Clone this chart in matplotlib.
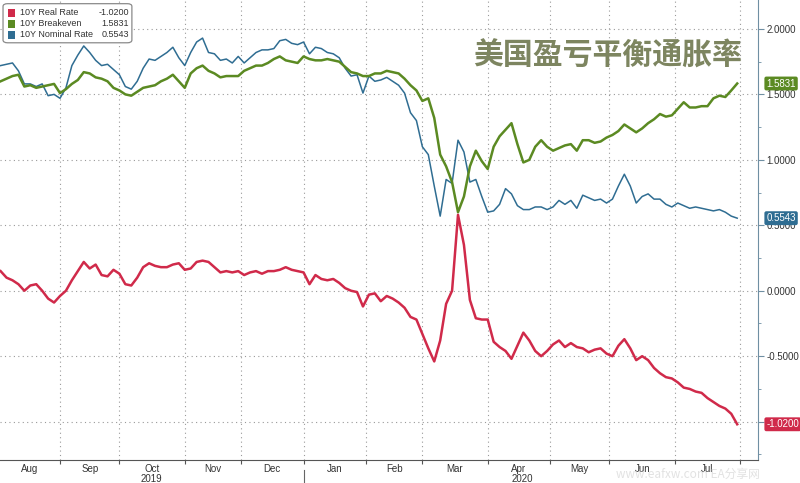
import numpy as np
import pandas as pd
import matplotlib
matplotlib.use("Agg")
import matplotlib.pyplot as plt
from matplotlib.patches import FancyBboxPatch

# trading calendar (US bond market), sampled every 2nd session
holidays = ["2019-09-02", "2019-10-14", "2019-11-11", "2019-11-28", "2019-12-25",
            "2020-01-01", "2020-01-20", "2020-02-17", "2020-04-10", "2020-05-25",
            "2020-07-03"]
days = pd.bdate_range("2019-08-01", "2020-07-31")
days = days[~days.isin(pd.to_datetime(holidays))]

nominal = [1.72, 1.73, 1.74, 1.68, 1.58, 1.58, 1.56, 1.58, 1.49, 1.50,
           1.47, 1.55, 1.72, 1.80, 1.87, 1.82, 1.76, 1.72, 1.73, 1.69,
           1.65, 1.56, 1.54, 1.60, 1.70, 1.77, 1.76, 1.79, 1.82, 1.86,
           1.78, 1.72, 1.82, 1.90, 1.93, 1.82, 1.81, 1.76, 1.77, 1.74,
           1.79, 1.74, 1.78, 1.82, 1.84, 1.84, 1.85, 1.91, 1.92, 1.89,
           1.88, 1.90, 1.81, 1.86, 1.85, 1.82, 1.81, 1.78, 1.70, 1.64,
           1.65, 1.51, 1.64, 1.60, 1.61, 1.63, 1.60, 1.57, 1.51, 1.36,
           1.30, 1.10, 1.04, 0.80, 0.57, 0.85, 0.82, 1.15, 1.06, 0.83,
           0.85, 0.72, 0.60, 0.61, 0.66, 0.78, 0.74, 0.65, 0.62, 0.62,
           0.64, 0.64, 0.62, 0.64, 0.69, 0.66, 0.69, 0.63, 0.73, 0.71,
           0.69, 0.70, 0.67, 0.70, 0.80, 0.89, 0.80, 0.67, 0.72, 0.74,
           0.70, 0.70, 0.66, 0.64, 0.67, 0.65, 0.63, 0.64, 0.63, 0.62,
           0.61, 0.62, 0.60, 0.57, 0.5543]

breakeven = [1.60, 1.62, 1.64, 1.65, 1.56, 1.57, 1.55, 1.56, 1.57, 1.58,
             1.51, 1.54, 1.58, 1.61, 1.67, 1.66, 1.63, 1.62, 1.60, 1.55,
             1.53, 1.50, 1.49, 1.52, 1.55, 1.56, 1.57, 1.60, 1.62, 1.65,
             1.60, 1.55, 1.66, 1.70, 1.72, 1.68, 1.66, 1.63, 1.64, 1.64,
             1.64, 1.68, 1.70, 1.72, 1.72, 1.74, 1.77, 1.79, 1.76, 1.75,
             1.74, 1.79, 1.77, 1.76, 1.76, 1.77, 1.76, 1.75, 1.71, 1.67,
             1.66, 1.64, 1.64, 1.66, 1.66, 1.68, 1.67, 1.66, 1.62, 1.57,
             1.53, 1.45, 1.47, 1.32, 1.04, 0.95, 0.83, 0.60, 0.72, 0.95,
             1.07, 0.99, 0.93, 1.10, 1.18, 1.23, 1.28, 1.12, 0.98, 1.00,
             1.10, 1.15, 1.10, 1.07, 1.09, 1.11, 1.12, 1.07, 1.15, 1.15,
             1.13, 1.14, 1.17, 1.19, 1.22, 1.27, 1.24, 1.21, 1.24, 1.28,
             1.31, 1.35, 1.33, 1.34, 1.39, 1.44, 1.40, 1.40, 1.41, 1.41,
             1.47, 1.49, 1.48, 1.53, 1.5831]

real = [0.15, 0.10, 0.08, 0.05, 0.00, 0.04, 0.05, 0.00, -0.06, -0.09,
        -0.04, 0.00, 0.08, 0.15, 0.22, 0.17, 0.20, 0.12, 0.11, 0.16,
        0.13, 0.05, 0.04, 0.10, 0.18, 0.21, 0.19, 0.18, 0.18, 0.20,
        0.21, 0.16, 0.17, 0.22, 0.23, 0.22, 0.18, 0.14, 0.15, 0.14,
        0.15, 0.12, 0.14, 0.15, 0.13, 0.15, 0.15, 0.16, 0.18, 0.16,
        0.15, 0.14, 0.05, 0.12, 0.09, 0.08, 0.09, 0.06, 0.02, 0.00,
        -0.01, -0.12, -0.03, -0.02, -0.08, -0.04, -0.06, -0.09, -0.13, -0.20,
        -0.22, -0.33, -0.44, -0.54, -0.38, -0.10, 0.00, 0.58, 0.35, -0.07,
        -0.21, -0.22, -0.22, -0.39, -0.43, -0.46, -0.52, -0.42, -0.32, -0.38,
        -0.46, -0.50, -0.46, -0.41, -0.38, -0.43, -0.40, -0.43, -0.44, -0.47,
        -0.45, -0.44, -0.48, -0.50, -0.42, -0.37, -0.44, -0.53, -0.50, -0.53,
        -0.59, -0.63, -0.66, -0.67, -0.70, -0.74, -0.75, -0.77, -0.78, -0.82,
        -0.85, -0.88, -0.90, -0.94, -1.02]

labels = ["10Y Real Rate", "10Y Breakeven", "10Y Nominal Rate"]
last_vals = ["-1.0200", "1.5831", "0.5543"]
colors = ["#d02a4a", "#5b8a22", "#2f6d92"]
title = "美国盈亏平衡通胀率"

pos = np.arange(len(days))
# every second session, counted back from the last one
x = pos[::-2][::-1][-len(real):]

fig = plt.figure(figsize=(8, 4.83), dpi=100)
ax = fig.add_axes([0.0, 0.0476, 0.9475, 0.9524])

ax.plot(x, nominal, color=colors[2], lw=1.1, zorder=3)
ax.plot(x, breakeven, color=colors[1], lw=1.8, zorder=4)
ax.plot(x, real, color=colors[0], lw=1.8, zorder=5)

ax.set_xlim(x[0] - 0.2, len(days) + 6)
ax.set_ylim(-1.293, 2.221)

# month starts = first session of each month
month_id = days.to_period("M")
starts = [i for i in range(1, len(days)) if month_id[i] != month_id[i - 1]]
starts.append(len(days))
left = ax.get_xlim()[0]
edges = [left] + starts
mids = [(a + b) / 2 for a, b in zip(edges[:-1], edges[1:])]
month_names = ["Aug", "Sep", "Oct", "Nov", "Dec", "Jan", "Feb", "Mar",
               "Apr", "May", "Jun", "Jul"]

ax.set_xticks(starts)
ax.set_xticklabels([])
ax.set_xticks(mids, minor=True)
ax.set_xticklabels(month_names, minor=True, fontsize=7, family="Liberation Sans",
                   color="#333333")
ax.tick_params(axis="x", which="major", length=3, width=0.8, color="#555555")
ax.tick_params(axis="x", which="minor", length=0, pad=3)

jan = starts[4]
years = [("2019", (left + jan) / 2), ("2020", (jan + starts[-1]) / 2)]
for yr, xm in years:
    ax.text(xm, -0.042, yr, transform=ax.get_xaxis_transform(), ha="center",
            va="center", fontsize=7, family="Liberation Sans", color="#333333")
ax.plot([jan, jan], [-0.022, -0.06], transform=ax.get_xaxis_transform(),
        color="#666666", lw=0.8, clip_on=False)

ax.yaxis.tick_right()
ax.set_yticks(np.arange(-1.0, 2.01, 0.5))
ax.set_yticks(np.arange(-1.25, 2.2, 0.25), minor=True)
ax.yaxis.set_major_formatter(matplotlib.ticker.FormatStrFormatter("%.4f"))
ax.tick_params(axis="y", which="major", length=4, width=0.8, color="#6f8fa3",
               labelsize=7, labelcolor="#333333", pad=2)
ax.tick_params(axis="y", which="minor", length=2, width=0.6, color="#6f8fa3")
for lab in ax.get_yticklabels():
    lab.set_family("Liberation Sans")

for s in ["top", "left"]:
    ax.spines[s].set_visible(False)
ax.spines["right"].set_color("#6f8fa3")
ax.spines["bottom"].set_color("#555555")

ax.grid(True, which="major", color="#9a9a9a", lw=0.8, linestyle=(0, (1, 3)))

# last-value tags on the right axis
for val, txt, c in zip([real[-1], breakeven[-1], nominal[-1]], last_vals, colors):
    ax.annotate(txt, xy=(1.0, val), xycoords=("axes fraction", "data"),
                xytext=(6, 0), textcoords="offset points", ha="left", va="center",
                fontsize=7, family="Liberation Sans", color="white",
                bbox=dict(boxstyle="round,pad=0.2", fc=c, ec="none"),
                annotation_clip=False, zorder=6)

# legend box
ax.add_patch(FancyBboxPatch((0.004, 0.907), 0.17, 0.085, transform=ax.transAxes,
                            boxstyle="round,pad=0.0,rounding_size=0.006",
                            fc="white", ec="#8a8a8a", lw=0.9, zorder=7))
for k, (lab, val, c) in enumerate(zip(labels, last_vals, colors)):
    yy = 0.972 - k * 0.024
    ax.add_patch(plt.Rectangle((0.011, yy - 0.009), 0.009, 0.017, transform=ax.transAxes,
                               fc=c, ec="none", zorder=8))
    ax.text(0.027, yy, lab, transform=ax.transAxes, ha="left", va="center",
            fontsize=6.5, family="Liberation Sans", color="#333333", zorder=8)
    ax.text(0.170, yy, val, transform=ax.transAxes, ha="right", va="center",
            fontsize=6.5, family="Liberation Sans", color="#333333", zorder=8)

ax.text(0.802, 0.88, title, transform=ax.transAxes, ha="center", va="center",
        fontsize=21.5, family=["Noto Sans CJK SC", "DejaVu Sans"], fontweight="bold",
        color="#7d8560", zorder=8)

fig.text(0.86, 0.004, "www.eafxw.com EA分享网", ha="center", va="bottom",
         fontsize=8.5, family=["Noto Sans CJK SC", "DejaVu Sans"], color="#e2e2e2",
         zorder=0)

fig.savefig("out.png", dpi=100)
